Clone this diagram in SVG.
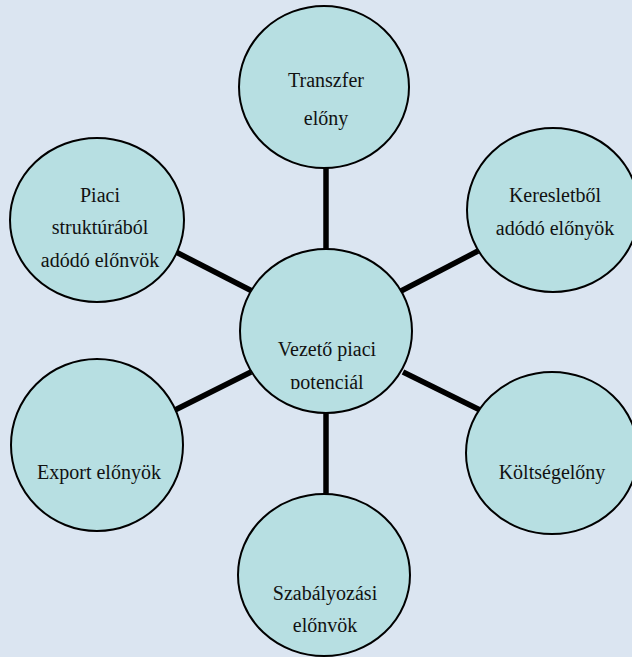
<svg xmlns="http://www.w3.org/2000/svg" width="632" height="657" viewBox="0 0 632 657">
<style>
.n{fill:#b7dfe2;stroke:#000;stroke-width:2}
.c{stroke:#000;stroke-width:5.5;fill:none}
.t{font-family:'Liberation Serif','DejaVu Serif','Times New Roman',serif;font-size:20px;fill:#111;text-anchor:middle}
</style>
<defs>
<clipPath id="clipC"><rect x="0" y="0" width="632" height="389"/></clipPath>
<clipPath id="clipB"><rect x="0" y="0" width="632" height="632"/></clipPath>
</defs>
<rect width="632" height="657" fill="#dbe5f1"/>
<g id="connectors">
<line class="c" x1="326" y1="167" x2="326" y2="250"/>
<line class="c" x1="326" y1="412" x2="326" y2="494"/>
<line class="c" x1="174" y1="251" x2="252" y2="291"/>
<line class="c" x1="401" y1="291" x2="478" y2="251"/>
<line class="c" x1="175" y1="410" x2="251" y2="372"/>
<line class="c" x1="403" y1="372" x2="480" y2="410"/>
</g>
<g id="transzfer">
<ellipse class="n" cx="324" cy="87" rx="85" ry="81"/>
<text class="t" font-family="Liberation Serif, serif" x="326" y="87">Transzfer</text>
<text class="t" font-family="Liberation Serif, serif" x="326" y="125">előny</text>
</g>
<g id="piaci">
<ellipse class="n" cx="97" cy="220" rx="87" ry="82"/>
<text class="t" font-family="Liberation Serif, serif" x="100" y="202">Piaci</text>
<text class="t" font-family="Liberation Serif, serif" x="100" y="234">struktúrából</text>
<text class="t" font-family="Liberation Serif, serif" x="100" y="267">adódó előnvök</text>
</g>
<g id="kereslet">
<ellipse class="n" cx="553" cy="210" rx="86" ry="82"/>
<text class="t" font-family="Liberation Serif, serif" x="555" y="202">Keresletből</text>
<text class="t" font-family="Liberation Serif, serif" x="555" y="235">adódó előnyök</text>
</g>
<g id="vezeto">
<ellipse class="n" cx="326" cy="331" rx="86" ry="82"/>
<g clip-path="url(#clipC)">
<text class="t" font-family="Liberation Serif, serif" x="327" y="356">Vezető piaci</text>
<text class="t" font-family="Liberation Serif, serif" x="327" y="389">potenciál</text>
</g>
</g>
<g id="export">
<ellipse class="n" cx="97" cy="445" rx="86" ry="86"/>
<text class="t" font-family="Liberation Serif, serif" x="99" y="479">Export előnyök</text>
</g>
<g id="koltseg">
<ellipse class="n" cx="552" cy="453" rx="86" ry="81"/>
<text class="t" font-family="Liberation Serif, serif" x="552" y="479">Költségelőny</text>
</g>
<g id="szabaly">
<ellipse class="n" cx="324" cy="575" rx="86" ry="81"/>
<g clip-path="url(#clipB)">
<text class="t" font-family="Liberation Serif, serif" x="325" y="600">Szabályozási</text>
<text class="t" font-family="Liberation Serif, serif" x="325" y="632">előnvök</text>
</g>
</g>
</svg>
